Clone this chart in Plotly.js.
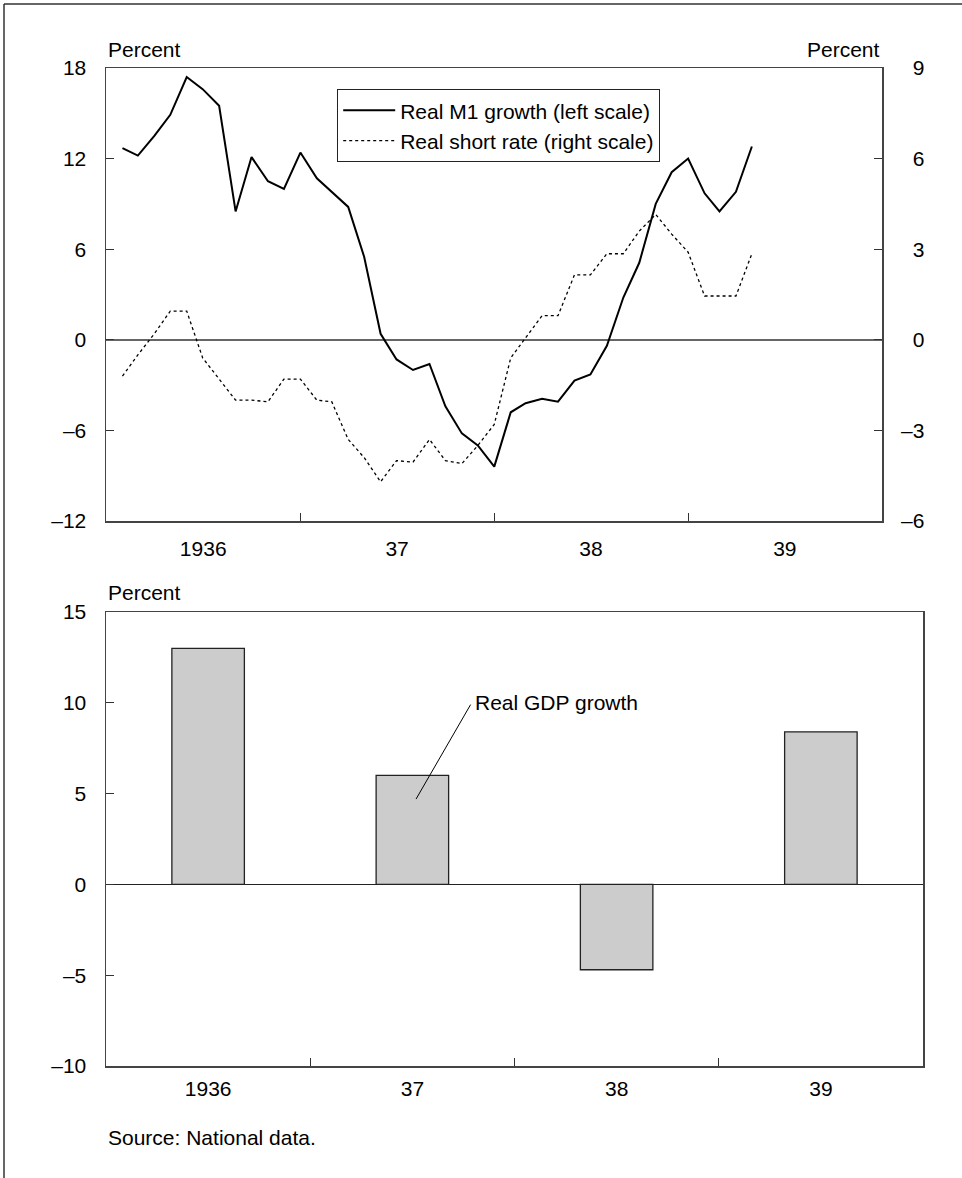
<!DOCTYPE html>
<html>
<head>
<meta charset="utf-8">
<script src="https://cdn.plot.ly/plotly-3.0.1.min.js"></script>
<style>
html,body{margin:0;padding:0;background:#fff;}
#chart{width:962px;height:1178px;}
</style>
</head>
<body>
<div id="chart"></div>
<script>
// ---- Data ----
const months = [
  '1936-01','1936-02','1936-03','1936-04','1936-05','1936-06','1936-07','1936-08','1936-09','1936-10','1936-11','1936-12',
  '1937-01','1937-02','1937-03','1937-04','1937-05','1937-06','1937-07','1937-08','1937-09','1937-10','1937-11','1937-12',
  '1938-01','1938-02','1938-03','1938-04','1938-05','1938-06','1938-07','1938-08','1938-09','1938-10','1938-11','1938-12',
  '1939-01','1939-02','1939-03','1939-04'
];
const realM1Growth = [
  12.7, 12.2, 13.5, 14.9, 17.4, 16.6, 15.5, 8.5, 12.1, 10.5, 10.0, 12.4,
  10.7, 9.8, 8.8, 5.5, 0.4, -1.3, -2.0, -1.6, -4.4, -6.2, -7.0, -8.4,
  -4.8, -4.2, -3.9, -4.1, -2.7, -2.3, -0.4, 2.8, 5.1, 9.0, 11.1, 12.0,
  9.7, 8.5, 9.8, 12.8
];
const realShortRate = [
  -1.2, -0.5, 0.2, 0.95, 0.95, -0.6, -1.3, -2.0, -2.0, -2.05, -1.3, -1.3,
  -2.0, -2.05, -3.3, -3.9, -4.7, -4.0, -4.05, -3.3, -4.0, -4.1, -3.5, -2.8,
  -0.6, 0.05, 0.8, 0.8, 2.15, 2.15, 2.85, 2.85, 3.6, 4.15, 3.5, 2.9,
  1.45, 1.45, 1.45, 2.85
];
const gdpYears = ['1936', '37', '38', '39'];
const realGdpGrowth = [13.0, 6.0, -4.7, 8.4];

const yearTickVals = ['1936-07-02', '1937-07-02', '1938-07-02', '1939-07-02'];
const yearTickText = ['1936', '37', '38', '39'];
const yearBoundaries = ['1937-01-01', '1938-01-01', '1939-01-01'];
const leftTickVals = [-12, -6, 0, 6, 12, 18];
const leftTickText = ['\u201312', '\u20136', '0', '6', '12', '18'];
const rightTickVals = [-6, -3, 0, 3, 6, 9];
const rightTickText = ['\u20136', '\u20133', '\u20070', '\u20073', '\u20076', '\u20079'];
const gdpTickVals = [-10, -5, 0, 5, 10, 15];
const gdpTickText = ['\u201310', '\u20135', '0', '5', '10', '15'];

// ---- Layout helpers ----
const W = 962, H = 1178;
const px = v => v / W;
const py = v => 1 - v / H;
const FONT = 'Liberation Sans, Arial, Helvetica, sans-serif';
const FS = 21;

const traces = [
  {
    type: 'scatter', mode: 'lines', name: 'Real M1 growth (left scale)',
    x: months, y: realM1Growth, xperiod: 'M1', xperiodalignment: 'end',
    xaxis: 'x', yaxis: 'y',
    line: {color: '#000', width: 2}
  },
  {
    type: 'scatter', mode: 'lines', name: 'Real short rate (right scale)',
    x: months, y: realShortRate, xperiod: 'M1', xperiodalignment: 'end',
    xaxis: 'x', yaxis: 'y2',
    line: {color: '#000', width: 1.3, dash: '3px,3px'}
  },
  {
    type: 'bar', name: 'Real GDP growth', showlegend: false,
    x: gdpYears, y: realGdpGrowth, xaxis: 'x2', yaxis: 'y3',
    width: 0.355,
    marker: {color: '#cccccc', line: {color: '#222', width: 1.3}}
  }
];

const layout = {
  width: W, height: H,
  margin: {l: 0, r: 0, t: 0, b: 0},
  paper_bgcolor: '#fff', plot_bgcolor: '#fff',
  font: {family: FONT, size: FS, color: '#000'},
  showlegend: true,
  legend: {
    x: px(337), y: py(89), xanchor: 'left', yanchor: 'top',
    bgcolor: '#fff', bordercolor: '#222', borderwidth: 1.2,
    font: {family: FONT, size: FS, color: '#000'},
    itemwidth: 52, tracegroupgap: 0
  },
  xaxis: {
    type: 'date', domain: [px(106), px(882)], anchor: 'y',
    range: ['1936-01-01', '1940-01-01'],
    tickmode: 'array', tickvals: yearTickVals, ticktext: yearTickText,
    ticks: 'inside', ticklen: 0, ticklabelstandoff: 8,
    minor: {tickmode: 'array', tickvals: yearBoundaries, ticks: 'inside', ticklen: 8, tickcolor: '#333', tickwidth: 1.2, showgrid: false},
    showgrid: false, zeroline: false,
    showline: true, mirror: true, linecolor: '#444', linewidth: 1.5,
    fixedrange: true
  },
  yaxis: {
    domain: [py(521), py(68)], anchor: 'x',
    range: [-12, 18], tickmode: 'array', tickvals: leftTickVals, ticktext: leftTickText,
    ticks: 'inside', ticklen: 8, tickcolor: '#333', tickwidth: 1.2,
    ticklabelstandoff: 14,
    showgrid: false, zeroline: true, zerolinecolor: '#666', zerolinewidth: 1.8,
    showline: true, mirror: true, linecolor: '#444', linewidth: 1.5
  },
  yaxis2: {
    overlaying: 'y', side: 'right', anchor: 'x',
    range: [-6, 9], tickmode: 'array', tickvals: rightTickVals, ticktext: rightTickText,
    ticks: 'inside', ticklen: 8, tickcolor: '#333', tickwidth: 1.2,
    ticklabelstandoff: 18,
    showgrid: false, zeroline: false, showline: false
  },
  xaxis2: {
    type: 'category', domain: [px(106), px(923)], anchor: 'y3',
    categoryorder: 'array', categoryarray: gdpYears,
    tickson: 'boundaries', ticks: 'inside', ticklen: 8, tickcolor: '#333', tickwidth: 1.2,
    ticklabelstandoff: 3,
    showgrid: false, zeroline: false,
    showline: true, mirror: true, linecolor: '#444', linewidth: 1.5
  },
  yaxis3: {
    domain: [py(1066), py(612)], anchor: 'x2',
    range: [-10, 15], tickmode: 'array', tickvals: gdpTickVals, ticktext: gdpTickText,
    ticks: 'inside', ticklen: 8, tickcolor: '#333', tickwidth: 1.2,
    ticklabelstandoff: 14,
    showgrid: false, zeroline: true, zerolinecolor: '#222', zerolinewidth: 1.5,
    showline: true, mirror: true, linecolor: '#444', linewidth: 1.5
  },
  annotations: [
    {xref: 'paper', yref: 'paper', x: px(106), y: py(50), xanchor: 'left', yanchor: 'middle',
     text: 'Percent', showarrow: false, font: {family: FONT, size: FS, color: '#000'}},
    {xref: 'paper', yref: 'paper', x: px(882), y: py(50), xanchor: 'right', yanchor: 'middle',
     text: 'Percent', showarrow: false, font: {family: FONT, size: FS, color: '#000'}},
    {xref: 'paper', yref: 'paper', x: px(106), y: py(592), xanchor: 'left', yanchor: 'middle',
     text: 'Percent', showarrow: false, font: {family: FONT, size: FS, color: '#000'}},
    {xref: 'x2', yref: 'y3', x: 1.297, y: 10.0, xanchor: 'left', yanchor: 'middle',
     text: 'Real GDP growth', showarrow: false, font: {family: FONT, size: FS, color: '#000'}},
    {xref: 'paper', yref: 'paper', x: px(106), y: py(1137), xanchor: 'left', yanchor: 'middle',
     text: 'Source: National data.', showarrow: false, font: {family: FONT, size: FS, color: '#000'}}
  ],
  shapes: [
    // leader line for the GDP label
    {type: 'line', xref: 'x2', yref: 'y3', x0: 1.285, y0: 9.9, x1: 1.018, y1: 4.7,
     line: {color: '#000', width: 1}},
    // outer frame (top and left edges)
    {type: 'line', xref: 'paper', yref: 'paper', x0: px(4), y0: py(4), x1: 1, y1: py(4),
     line: {color: '#333', width: 1.5}},
    {type: 'line', xref: 'paper', yref: 'paper', x0: px(4), y0: py(4), x1: px(4), y1: 0,
     line: {color: '#333', width: 1.5}}
  ]
};

Plotly.newPlot('chart', traces, layout, {displayModeBar: false, staticPlot: true});
</script>
</body>
</html>
